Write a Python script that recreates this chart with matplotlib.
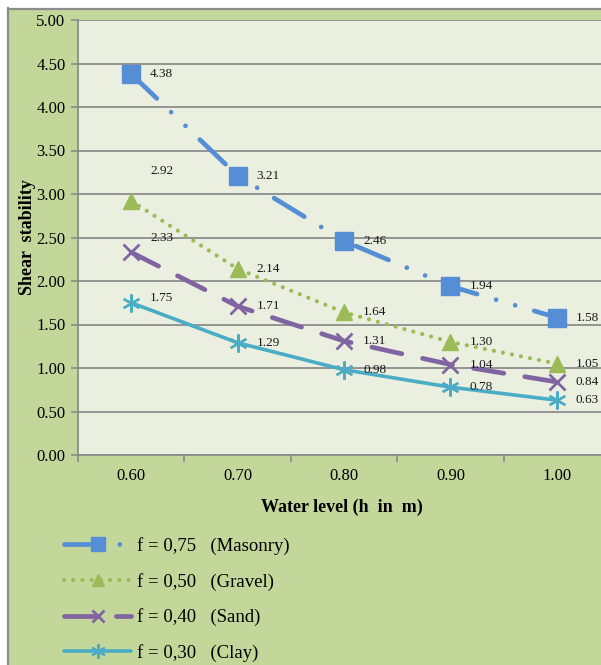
import matplotlib.pyplot as plt
from matplotlib.lines import Line2D
from matplotlib.patches import Rectangle

plt.rcParams['font.family'] = ['Liberation Serif', 'DejaVu Serif']

# Water levels and shear stability for each material
levels = ['0.60', '0.70', '0.80', '0.90', '1.00']
masonry = [4.38, 3.21, 2.46, 1.94, 1.58]
gravel = [2.92, 2.14, 1.64, 1.30, 1.05]
sand = [2.33, 1.71, 1.31, 1.04, 0.84]
clay = [1.75, 1.29, 0.98, 0.78, 0.63]
names = ['f = 0,75   (Masonry)', 'f = 0,50   (Gravel)', 'f = 0,40   (Sand)', 'f = 0,30   (Clay)']

W, H = 601, 665
fig = plt.figure(figsize=(W / 100, H / 100), dpi=100, facecolor='white')

# green chart frame with grey border on top and left
fig.add_artist(Rectangle((8 / W, 0), 1, 1 - 8 / H, transform=fig.transFigure,
                         facecolor='#c4d79b', edgecolor='none', zorder=-5))
fig.add_artist(Line2D([8 / W, 1], [1 - 8.5 / H, 1 - 8.5 / H], transform=fig.transFigure,
                      color='#8c8c8c', lw=1.6))
fig.add_artist(Line2D([8 / W, 8 / W], [0, 1 - 8 / H], transform=fig.transFigure,
                      color='#8c8c8c', lw=1.6))

ax = fig.add_axes([78 / W, (H - 455) / H, 532 / W, 435 / H])
ax.set_facecolor('#ebefdf')

x = range(len(levels))
styles = [
    dict(color='#558ed5', lw=3.4, marker='s', ms=13, dashes=(7.5, 4.2, 0.01, 4.2, 0.01, 4.2)),
    dict(color='#9bbb59', lw=3.0, marker='^', ms=11, dashes=(0.01, 2.2)),
    dict(color='#8064a2', lw=3.4, marker='x', ms=11, mew=2, dashes=(6.5, 4.5)),
    dict(color='#4bacc6', lw=2.6, marker=(6, 2, 0), ms=13, mew=1.6),
]
series = [masonry, gravel, sand, clay]
handles = []
for vals, st, name in zip(series, styles, names):
    line, = ax.plot(x, vals, dash_capstyle='round', solid_capstyle='round',
                    label=name, zorder=3, **st)
    handles.append(line)

# value labels, a few lifted to keep clear of the lines
lift = {(1, 0): 30, (2, 0): 14, (3, 0): 5}
for si, vals in enumerate(series):
    for i, v in enumerate(vals):
        ax.annotate(f'{v:.2f}', (i, v), xytext=(19, lift.get((si, i), 0)),
                    textcoords='offset pixels', ha='left', va='center',
                    fontsize=9.5, color='#1a1a1a', zorder=4)

ax.set_xlim(-0.5, len(levels) - 0.5)
ax.set_ylim(0, 5)
ax.set_yticks([i * 0.5 for i in range(11)])
ax.set_yticklabels([f'{i * 0.5:.2f}' for i in range(11)])
ax.set_xticks([i - 0.5 for i in range(len(levels) + 1)])
ax.set_xticklabels([])
ax.set_xticks(list(x), minor=True)
ax.set_xticklabels(levels, minor=True)
ax.tick_params(axis='x', which='major', length=5, color='#8c8c8c', width=1.2, direction='out')
ax.tick_params(axis='x', which='minor', length=0, pad=9, labelsize=12)
ax.tick_params(axis='y', length=5, color='#8c8c8c', width=1.2, pad=4, labelsize=12)
ax.grid(axis='y', color='#8c8c8c', lw=1.3)
ax.set_axisbelow(True)
for s in ['top', 'right']:
    ax.spines[s].set_visible(False)
for s in ['left', 'bottom']:
    ax.spines[s].set_color('#8c8c8c')
    ax.spines[s].set_linewidth(1.3)

fig.text(27 / W, 1 - 237 / H, 'Shear  stability', rotation=90, ha='center', va='center',
         fontsize=13, fontweight='bold')
fig.text(342 / W, 1 - 507 / H, 'Water level (h  in  m)', ha='center', va='center',
         fontsize=13, fontweight='bold')

fig.legend(handles=handles, loc='upper left', bbox_to_anchor=(47 / W, 1 - 520 / H),
           frameon=False, fontsize=13.5, handlelength=3.6, handletextpad=0.3,
           labelspacing=0.95, numpoints=1, markerscale=0.8)

fig.savefig('out.png', dpi=100, facecolor=fig.get_facecolor())
